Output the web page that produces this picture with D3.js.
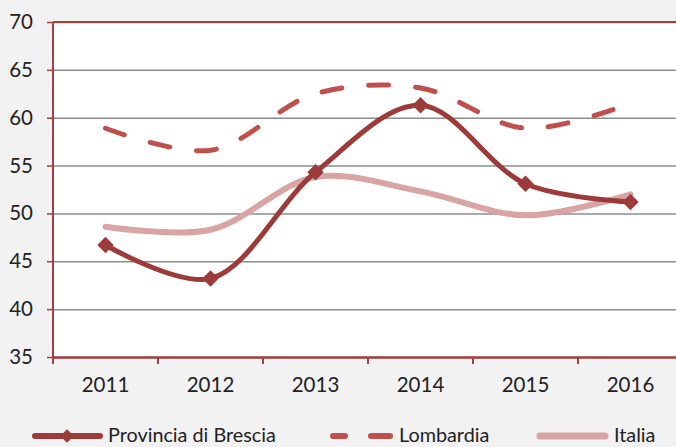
<!DOCTYPE html>
<html>
<head>
<meta charset="utf-8">
<script src="https://cdn.jsdelivr.net/npm/d3@7"></script>
<style>
  body { margin: 0; background: #f2f2f2; }
  svg { display: block; font-family: Lato, "Liberation Sans", sans-serif; }
</style>
</head>
<body>
<svg width="676" height="447"></svg>
<script>
const years = ['2011', '2012', '2013', '2014', '2015', '2016']
const brescia = [46.7, 43.2, 54.3, 61.3, 53.1, 51.2]
const lombardia = [58.9, 56.6, 62.5, 63.1, 58.9, 61.5]
const italia = [48.6, 48.3, 53.8, 52.3, 49.8, 52.0]
const yTicks = [35, 40, 45, 50, 55, 60, 65, 70]

const svg = d3.select('svg')
const width = +svg.attr('width')
const height = +svg.attr('height')

const margin = { top: 22, right: -7, bottom: 90, left: 53 }
const innerWidth = width - margin.left - margin.right
const innerHeight = height - margin.top - margin.bottom
const fontSize = 20.5
const legendSize = 19.8
const font = 'Lato, "Liberation Sans", sans-serif'

const xScale = d3.scaleBand()
  .domain(years)
  .range([0, innerWidth])

const yScale = d3.scaleLinear()
  .domain([35, 70])
  .range([innerHeight, 0])

const g = svg.append('g')
  .attr('transform', `translate(${margin.left}, ${margin.top})`)

g.append('rect')
  .attr('width', innerWidth)
  .attr('height', innerHeight)
  .attr('fill', 'white')

// grid lines
const yAxis = d3.axisLeft(yScale)
  .tickValues(yTicks)
  .tickSize(-innerWidth)
const yAxisG = g.append('g').call(yAxis)
yAxisG.select('.domain').remove()
yAxisG.selectAll('.tick line').attr('stroke', '#8c8c8c').attr('stroke-width', 1.5)
yAxisG.selectAll('.tick text')
  .attr('x', -20)
  .attr('font-size', fontSize)
  .attr('font-family', font)
  .attr('fill', '#222')
// small outer ticks on the left
yAxisG.selectAll('.tick').append('line')
  .attr('x1', -6).attr('x2', 0)
  .attr('stroke', '#a0403f').attr('stroke-width', 1.5)

// top border and axes
g.append('line')
  .attr('x1', 0).attr('x2', innerWidth)
  .attr('y1', 0).attr('y2', 0)
  .attr('stroke', '#a0403f').attr('stroke-width', 2)
g.append('line')
  .attr('x1', 0).attr('x2', 0)
  .attr('y1', 0).attr('y2', innerHeight)
  .attr('stroke', '#a0403f').attr('stroke-width', 2)

const xAxis = d3.axisBottom(xScale).tickSize(0).tickPadding(20)
const xAxisG = g.append('g').call(xAxis)
  .attr('transform', `translate(0, ${innerHeight})`)
xAxisG.select('.domain')
  .attr('stroke', '#a0403f').attr('stroke-width', 2.5)
xAxisG.selectAll('.tick text')
  .attr('font-size', fontSize)
  .attr('font-family', font)
  .attr('fill', '#222')
xAxisG.selectAll('.bound').data(years.concat(['end']))
  .enter().append('line')
  .attr('x1', (d, i) => i * xScale.step())
  .attr('x2', (d, i) => i * xScale.step())
  .attr('y1', 0).attr('y2', 7)
  .attr('stroke', '#a0403f').attr('stroke-width', 2)

const xPos = d => xScale(d) + xScale.bandwidth() / 2
const line = d3.line()
  .x((d, i) => xPos(years[i]))
  .y(d => yScale(d))
  .curve(d3.curveCatmullRom.alpha(0.5))

g.append('path').datum(italia)
  .attr('d', line)
  .attr('fill', 'none')
  .attr('stroke', '#d9a5a4')
  .attr('stroke-width', 6)
  .attr('stroke-linecap', 'round')

g.append('path').datum(lombardia)
  .attr('d', line)
  .attr('fill', 'none')
  .attr('stroke', '#c0504d')
  .attr('stroke-width', 5)
  .attr('stroke-dasharray', '20 27')
  .attr('stroke-linecap', 'round')

g.append('path').datum(brescia)
  .attr('d', line)
  .attr('fill', 'none')
  .attr('stroke', '#9c3b3a')
  .attr('stroke-width', 5)

// rotated square as the diamond marker
const diamond = d3.symbol().type(d3.symbolSquare).size(135)
g.selectAll('.marker').data(brescia)
  .enter().append('path')
  .attr('class', 'marker')
  .attr('d', diamond)
  .attr('transform', (d, i) => `translate(${xPos(years[i])}, ${yScale(d)}) rotate(45)`)
  .attr('fill', '#9c3b3a')

// legend
const legend = svg.append('g').attr('transform', 'translate(0, 436)')
legend.append('line')
  .attr('x1', 35).attr('x2', 100)
  .attr('stroke', '#9c3b3a').attr('stroke-width', 6).attr('stroke-linecap', 'round')
legend.append('path')
  .attr('d', d3.symbol().type(d3.symbolSquare).size(90))
  .attr('transform', 'translate(67, 0) rotate(45)')
  .attr('fill', '#9c3b3a')
legend.append('text')
  .attr('x', 108).attr('y', 6)
  .attr('font-size', legendSize).attr('fill', '#222')
  .text('Provincia di Brescia')

legend.selectAll('.dash').data([[333, 345], [371, 390]])
  .enter().append('line')
  .attr('x1', d => d[0]).attr('x2', d => d[1])
  .attr('stroke', '#c0504d').attr('stroke-width', 6).attr('stroke-linecap', 'round')
legend.append('text')
  .attr('x', 399).attr('y', 6)
  .attr('font-size', legendSize).attr('fill', '#222')
  .text('Lombardia')

legend.append('line')
  .attr('x1', 540).attr('x2', 605)
  .attr('stroke', '#d9a5a4').attr('stroke-width', 7).attr('stroke-linecap', 'round')
legend.append('text')
  .attr('x', 614).attr('y', 6)
  .attr('font-size', legendSize).attr('fill', '#222')
  .text('Italia')
</script>
</body>
</html>
